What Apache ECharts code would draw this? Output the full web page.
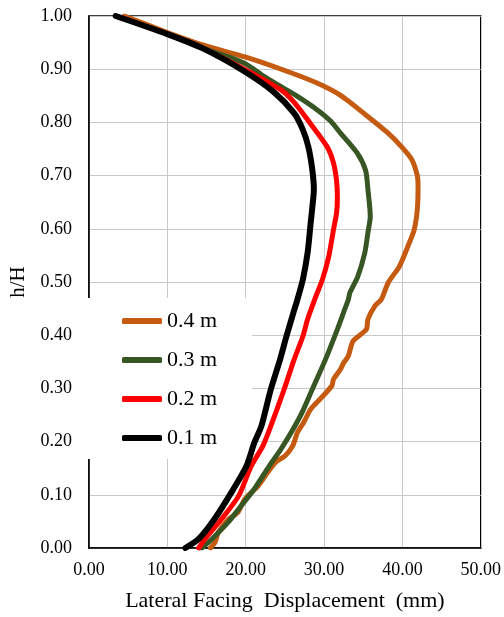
<!DOCTYPE html>
<html>
<head>
<meta charset="utf-8">
<script src="https://cdn.jsdelivr.net/npm/echarts@6/dist/echarts.min.js"></script>
<style>
  html, body { margin: 0; padding: 0; background: #fff; }
  #chart { width: 504px; height: 617px; }
</style>
</head>
<body>
<div id="chart"></div>
<script>
// Lateral facing displacement profiles (mm) against normalised height h/H
const seriesNames = ['0.4 m', '0.3 m', '0.2 m', '0.1 m'];
const seriesColors = ['#C55A11', '#375623', '#FF0000', '#000000'];
const seriesWidths = [5, 5, 5, 6];

const xTicks = [0, 10, 20, 30, 40, 50];
const yTicks = [0, 0.1, 0.2, 0.3, 0.4, 0.5, 0.6, 0.7, 0.8, 0.9, 1.0];

const hH04 = [1.0, 0.969, 0.946, 0.923, 0.898, 0.874, 0.85, 0.818, 0.782, 0.754, 0.73, 0.70, 0.68, 0.636,
  0.598, 0.567, 0.529, 0.499, 0.467, 0.455, 0.43, 0.411, 0.389, 0.361, 0.348, 0.336, 0.317, 0.305,
  0.28, 0.261, 0.236, 0.217, 0.192, 0.173, 0.161, 0.142, 0.117, 0.092, 0.067, 0.054, 0.029, 0.011, 0.0];
const disp04 = [4.5, 10.0, 14.4, 19.9, 24.9, 29.1, 32.2, 35.0, 38.0, 39.9, 41.2, 41.9, 42.0, 41.9,
  41.5, 40.7, 39.6, 38.2, 37.3, 36.5, 35.6, 35.4, 33.7, 33.1, 32.5, 32.1, 31.2, 31.0,
  29.5, 28.3, 27.4, 26.6, 26.0, 25.0, 23.8, 22.8, 21.6, 19.9, 19.0, 17.8, 16.5, 16.1, 15.5];

const hH03 = [1.0, 0.966, 0.94, 0.923, 0.91, 0.886, 0.867, 0.849, 0.824, 0.803, 0.78, 0.743, 0.71, 0.674,
  0.623, 0.593, 0.555, 0.51, 0.48, 0.467, 0.443, 0.411, 0.355, 0.305, 0.255, 0.217, 0.186, 0.154,
  0.111, 0.079, 0.049, 0.017, 0.0];
const disp03 = [3.5, 10.0, 14.4, 17.8, 20.0, 22.4, 24.5, 26.6, 29.1, 30.8, 32.1, 34.2, 35.3, 35.6,
  35.9, 35.6, 35.2, 34.3, 33.3, 33.1, 32.5, 31.7, 30.2, 28.7, 27.2, 25.8, 24.5, 23.0,
  21.1, 19.4, 17.8, 15.7, 14.4];

const hH02 = [1.0, 0.966, 0.94, 0.902, 0.861, 0.839, 0.805, 0.754, 0.724, 0.69, 0.66, 0.63, 0.598, 0.548,
  0.505, 0.467, 0.43, 0.398, 0.355, 0.298, 0.229, 0.192, 0.154, 0.098, 0.054, 0.017, 0.0];
const disp02 = [3.5, 10.0, 14.4, 19.6, 24.5, 26.1, 27.9, 30.4, 31.2, 31.6, 31.7, 31.6, 31.2, 30.6,
  29.8, 28.8, 27.9, 27.3, 26.2, 24.9, 23.2, 22.2, 20.7, 19.1, 16.9, 14.8, 14.0];

const hH01 = [1.0, 0.966, 0.94, 0.898, 0.857, 0.817, 0.786, 0.754, 0.711, 0.674, 0.64, 0.612, 0.555,
  0.505, 0.467, 0.443, 0.398, 0.355, 0.298, 0.229, 0.198, 0.154, 0.105, 0.054, 0.017, 0.0];
const disp01 = [3.4, 10.0, 14.4, 19.6, 23.6, 26.2, 27.3, 28.0, 28.5, 28.7, 28.5, 28.3, 27.9,
  27.3, 26.6, 26.1, 25.2, 24.4, 23.2, 22.0, 21.1, 20.1, 18.2, 16.0, 14.0, 12.3];

const profiles = [[disp04, hH04], [disp03, hH03], [disp02, hH02], [disp01, hH01]];

const serif = 'Liberation Serif';
const chart = echarts.init(document.getElementById('chart'), null, { renderer: 'canvas' });

chart.setOption({
  animation: false,
  backgroundColor: '#fff',
  grid: {
    left: 86, right: 22, top: 16, bottom: 68,
    show: true, borderColor: '#000', borderWidth: 1.5, backgroundColor: 'transparent'
  },
  legend: {
    orient: 'vertical',
    left: 88, top: 298,
    padding: [12, 35, 10, 34],
    backgroundColor: '#fff',
    itemGap: 17,
    itemWidth: 40, itemHeight: 6,
    icon: 'roundRect',
    data: seriesNames,
    textStyle: { fontFamily: serif, fontSize: 22, color: '#000', lineHeight: 22 }
  },
  xAxis: {
    type: 'value',
    min: xTicks[0], max: xTicks[xTicks.length - 1], interval: 10,
    name: 'Lateral Facing  Displacement  (mm)',
    nameLocation: 'middle', nameGap: 42,
    nameTextStyle: { fontFamily: serif, fontSize: 22, color: '#000' },
    axisLine: { show: true, lineStyle: { color: '#000', width: 1.5 } },
    axisTick: { show: false },
    axisLabel: {
      margin: 13, fontFamily: serif, fontSize: 18, color: '#000',
      formatter: v => v.toFixed(2)
    },
    splitLine: { show: true, lineStyle: { color: '#C8C8C8', width: 1 } }
  },
  yAxis: {
    type: 'value',
    min: yTicks[0], max: yTicks[yTicks.length - 1], interval: 0.1,
    name: 'h/H',
    nameLocation: 'middle', nameGap: 60,
    nameTextStyle: { fontFamily: serif, fontSize: 21, color: '#000' },
    axisLine: { show: true, lineStyle: { color: '#000', width: 1.5 } },
    axisTick: { show: false },
    axisLabel: {
      margin: 17, fontFamily: serif, fontSize: 18, color: '#000',
      formatter: v => v.toFixed(2)
    },
    splitLine: { show: true, lineStyle: { color: '#C8C8C8', width: 1 } }
  },
  series: profiles.map(([xs, ys], i) => ({
    name: seriesNames[i],
    type: 'line',
    data: xs.map((x, k) => [x, ys[k]]),
    showSymbol: false,
    symbol: 'none',
    smooth: 0.25,
    z: 2 + i,
    itemStyle: { color: seriesColors[i] },
    lineStyle: { color: seriesColors[i], width: seriesWidths[i], cap: 'round', join: 'round' }
  }))
});
</script>
</body>
</html>
